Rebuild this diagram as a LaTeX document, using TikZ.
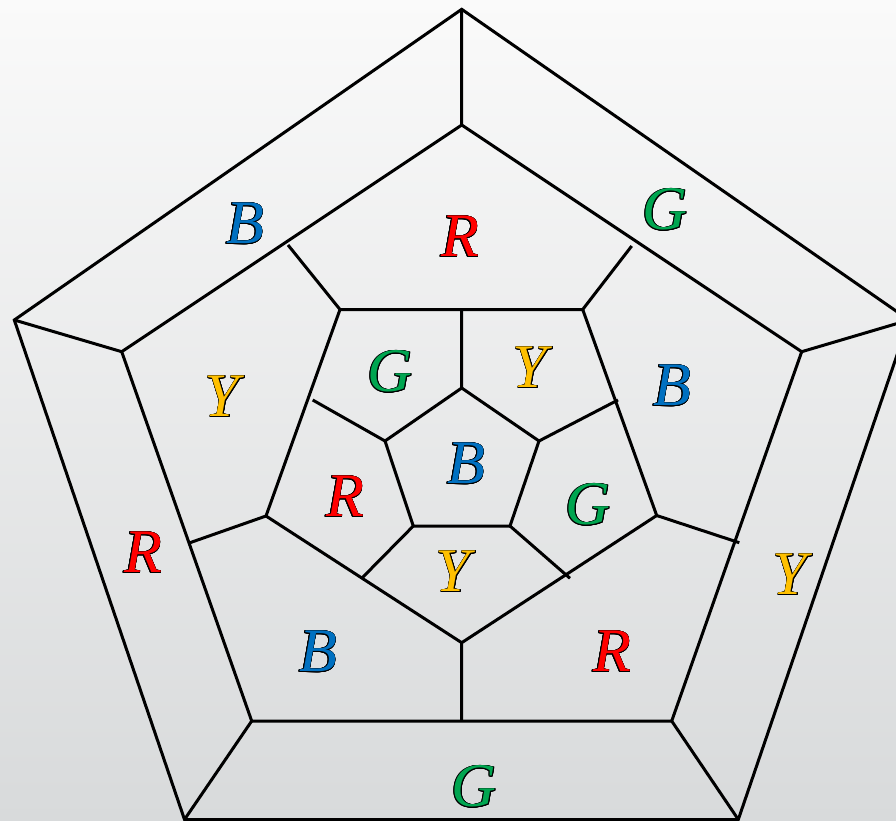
\documentclass[tikz,border=0pt]{standalone}
\usepackage{fontspec}
\usepackage{contour}
\contourlength{0.7pt}
\newfontfamily\lbfont{Liberation Serif}[Scale=1]
\definecolor{cR}{HTML}{FF0000}
\definecolor{cB}{HTML}{0070C0}
\definecolor{cG}{HTML}{00A550}
\definecolor{cY}{HTML}{FFC000}
\definecolor{bgTop}{HTML}{FAFAFA}
\definecolor{bgBot}{HTML}{D8DADB}
\newcommand{\lt}[2]{\textcolor{#1}{\contour{black}{#2}}}
\begin{document}
\begin{tikzpicture}[x=1pt,y=-1pt,
  edge/.style={line width=3pt,black},
  lbl/.style={inner sep=0pt,font=\lbfont\itshape\fontsize{62}{62}\selectfont}]
\useasboundingbox (0,0) rectangle (896,821);
\clip (0,0) rectangle (896,821);
\shade[top color=bgTop,bottom color=bgBot] (0,0) rectangle (896,821);
% outer pentagon
\coordinate (O1) at (461.7,9.3);
\coordinate (O2) at (909,320);
\coordinate (O3) at (738.3,819.5);
\coordinate (O4) at (184.5,819.5);
\coordinate (O5) at (14.3,320);
% middle pentagon
\coordinate (M1) at (461.7,125);
\coordinate (M2) at (801.7,351.7);
\coordinate (M3) at (671.7,721);
\coordinate (M4) at (251.7,721);
\coordinate (M5) at (121.7,351.7);
% ring pentagon
\coordinate (P1) at (340,309.5);
\coordinate (P2) at (582.7,309.5);
\coordinate (P3) at (656.7,515.5);
\coordinate (P4) at (461.7,642.7);
\coordinate (P5) at (266,516);
% spoke ends on middle pentagon
\coordinate (S1) at (288,245);
\coordinate (S2) at (631.7,246);
\coordinate (S3) at (739.3,542.7);
\coordinate (S4) at (461.7,721);
\coordinate (S5) at (190,542.7);
% inner pentagon
\coordinate (I1) at (461.7,388);
\coordinate (I2) at (539,441);
\coordinate (I3) at (510,526);
\coordinate (I4) at (413.3,526);
\coordinate (I5) at (385,441);
% inner spoke ends on ring
\coordinate (T1) at (461.7,309.5);
\coordinate (T2) at (618,400);
\coordinate (T3) at (570,578.3);
\coordinate (T4) at (361.7,578.3);
\coordinate (T5) at (312.7,400);

\draw[edge] (O1) -- (O2) -- (O3) -- (O4) -- (O5) -- cycle;
\draw[edge] (M1) -- (M2) -- (M3) -- (M4) -- (M5) -- cycle;
\draw[edge] (O1) -- (M1) (O2) -- (M2) (O3) -- (M3) (O4) -- (M4) (O5) -- (M5);
\draw[edge] (P1) -- (P2) -- (P3) -- (P4) -- (P5) -- cycle;
\draw[edge] (P1) -- (S1) (P2) -- (S2) (P3) -- (S3) (P4) -- (S4) (P5) -- (S5);
\draw[edge] (I1) -- (I2) -- (I3) -- (I4) -- (I5) -- cycle;
\draw[edge] (I1) -- (T1) (I2) -- (T2) (I3) -- (T3) (I4) -- (T4) (I5) -- (T5);

% labels
\node[lbl] (l1) at (245,224) {\lt{cB}{B}};
\node[lbl] (l2) at (460,237) {\lt{cR}{R}};
\node[lbl] (l3) at (665,210) {\lt{cG}{G}};
\node[lbl] (l4) at (222,397) {\lt{cY}{Y}};
\node[lbl] (l5) at (390,372) {\lt{cG}{G}};
\node[lbl] (l6) at (530,368) {\lt{cY}{Y}};
\node[lbl] (l7) at (672,386) {\lt{cB}{B}};
\node[lbl] (l8) at (466,464) {\lt{cB}{B}};
\node[lbl] (l9) at (345,497) {\lt{cR}{R}};
\node[lbl] (l10) at (588,505) {\lt{cG}{G}};
\node[lbl] (l11) at (143,553) {\lt{cR}{R}};
\node[lbl] (l12) at (453,572) {\lt{cY}{Y}};
\node[lbl] (l13) at (790,575) {\lt{cY}{Y}};
\node[lbl] (l14) at (318,652) {\lt{cB}{B}};
\node[lbl] (l15) at (612,652) {\lt{cR}{R}};
\node[lbl] (l16) at (474,787) {\lt{cG}{G}};
\end{tikzpicture}
\end{document}
